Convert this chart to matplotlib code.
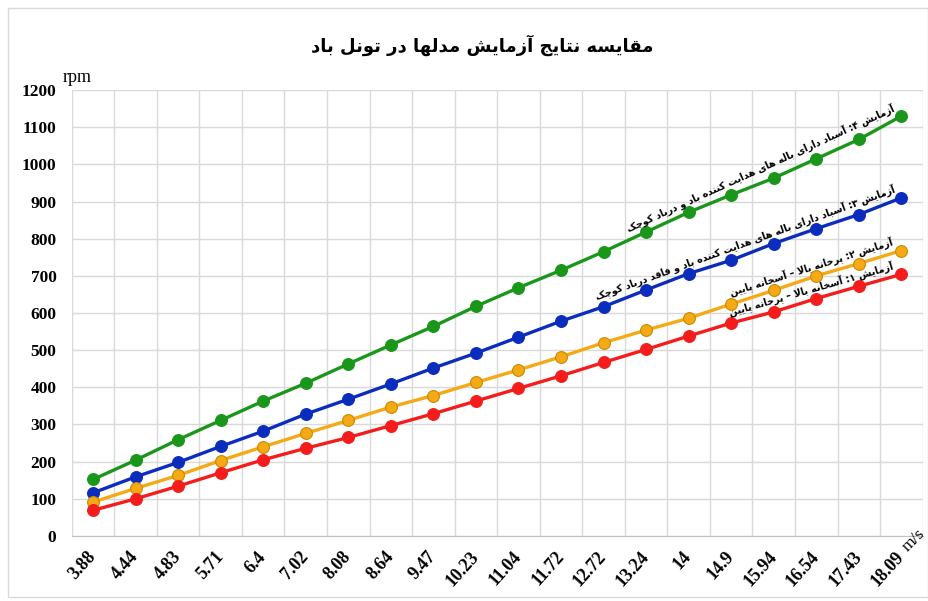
import numpy as np
import matplotlib
matplotlib.use("Agg")
import matplotlib.pyplot as plt
from matplotlib.patches import Rectangle

# سرعت باد (m/s) و دور (rpm) برای هر آزمایش
speeds = ["3.88", "4.44", "4.83", "5.71", "6.4", "7.02", "8.08", "8.64", "9.47", "10.23",
          "11.04", "11.72", "12.72", "13.24", "14", "14.9", "15.94", "16.54", "17.43", "18.09"]
test4 = [152, 204, 259, 311, 363, 411, 463, 514, 564, 618, 668, 715, 765, 818, 871, 918, 963, 1015, 1067, 1130]
test3 = [116, 159, 198, 241, 282, 328, 368, 409, 452, 492, 535, 578, 617, 662, 706, 742, 787, 827, 865, 910]
test2 = [91, 128, 163, 203, 240, 276, 311, 347, 378, 413, 447, 482, 520, 554, 586, 624, 661, 700, 733, 768]
test1 = [69, 100, 134, 170, 205, 236, 265, 297, 329, 363, 397, 431, 467, 502, 538, 573, 603, 639, 672, 704]

title = "مقایسه نتایج آزمایش مدلها در تونل باد"
label4 = "آزمایش ۴: آسباد دارای باله های هدایت کننده باد و درباد کوچک"
label3 = "آزمایش ۳: آسباد دارای باله های هدایت کننده باد و فاقد درباد کوچک"
label2 = "آزمایش ۲: پرخانه بالا – آسخانه پایین"
label1 = "آزمایش ۱: آسخانه بالا – پرخانه پایین"

# matplotlib حروف فارسی را به هم نمی چسباند، پس شکل ها را دستی انتخاب می کنیم
# (isolated, final, initial, medial)
FORMS = {
    'ا': ('\uFE8D', '\uFE8E', None, None),
    'آ': ('\uFE81', '\uFE82', None, None),
    'د': ('\uFEA9', '\uFEAA', None, None),
    'ر': ('\uFEAD', '\uFEAE', None, None),
    'ز': ('\uFEAF', '\uFEB0', None, None),
    'و': ('\uFEED', '\uFEEE', None, None),
    'ب': ('\uFE8F', '\uFE90', '\uFE91', '\uFE92'),
    'پ': ('\uFB56', '\uFB57', '\uFB58', '\uFB59'),
    'ت': ('\uFE95', '\uFE96', '\uFE97', '\uFE98'),
    'ج': ('\uFE9D', '\uFE9E', '\uFE9F', '\uFEA0'),
    'چ': ('\uFB7A', '\uFB7B', '\uFB7C', '\uFB7D'),
    'خ': ('\uFEA5', '\uFEA6', '\uFEA7', '\uFEA8'),
    'س': ('\uFEB1', '\uFEB2', '\uFEB3', '\uFEB4'),
    'ش': ('\uFEB5', '\uFEB6', '\uFEB7', '\uFEB8'),
    'ف': ('\uFED1', '\uFED2', '\uFED3', '\uFED4'),
    'ق': ('\uFED5', '\uFED6', '\uFED7', '\uFED8'),
    'ک': ('\uFB8E', '\uFB8F', '\uFB90', '\uFB91'),
    'ل': ('\uFEDD', '\uFEDE', '\uFEDF', '\uFEE0'),
    'م': ('\uFEE1', '\uFEE2', '\uFEE3', '\uFEE4'),
    'ن': ('\uFEE5', '\uFEE6', '\uFEE7', '\uFEE8'),
    'ه': ('\uFEE9', '\uFEEA', '\uFEEB', '\uFEEC'),
    'ی': ('\uFBFC', '\uFBFD', '\uFBFE', '\uFBFF'),
}
LAM_ALEF = {'ا': ('\uFEFB', '\uFEFC'), 'آ': ('\uFEF5', '\uFEF6')}


def joins_next(c):
    return c in FORMS and FORMS[c][2] is not None


def fa(text):
    out = []
    i = 0
    n = len(text)
    while i < n:
        c = text[i]
        if c not in FORMS:
            out.append(c)
            i += 1
            continue
        link_prev = i > 0 and joins_next(text[i - 1])
        if c == 'ل' and i + 1 < n and text[i + 1] in LAM_ALEF:
            out.append(LAM_ALEF[text[i + 1]][1 if link_prev else 0])
            i += 2
            continue
        link_next = joins_next(c) and i + 1 < n and text[i + 1] in FORMS
        iso, fin, ini, med = FORMS[c]
        if link_prev and link_next:
            out.append(med)
        elif link_prev:
            out.append(fin)
        elif link_next:
            out.append(ini)
        else:
            out.append(iso)
        i += 1
    return ''.join(reversed(out))


serif = "Liberation Serif"
fa_font = ["DejaVu Sans"]

fig = plt.figure(figsize=(9.29, 6.01), dpi=100)
ax = fig.add_axes([0.0772, 0.1082, 0.9160, 0.742])

x = np.arange(len(speeds))
series = [
    (test4, '#1A961A', '#1A961A'),
    (test3, '#0B2DBE', '#0B2DBE'),
    (test2, '#F5A915', '#C88A00'),
    (test1, '#F51C1C', '#F51C1C'),
]
for vals, col, edge in series:
    ax.plot(x, vals, color=col, lw=2.4, marker='o', ms=8.5,
            markerfacecolor=col, markeredgecolor=edge, markeredgewidth=0.8, zorder=3)

ax.set_xlim(-0.5, len(speeds) - 0.5)
ax.set_ylim(0, 1200)
ax.set_yticks(np.arange(0, 1201, 100))
ax.set_xticks(x)
ax.set_xticks(np.arange(-0.5, len(speeds)), minor=True)
ax.set_xticklabels(speeds, rotation=48, ha='right', va='center', rotation_mode='anchor',
                   fontfamily=serif, fontweight='bold', fontsize=13)
for lab in ax.get_yticklabels():
    lab.set_fontfamily(serif)
    lab.set_fontweight('bold')
    lab.set_fontsize(12.5)
ax.tick_params(which='both', length=0)
ax.tick_params(axis='y', pad=11)
ax.tick_params(axis='x', pad=13)
ax.grid(axis='y', color='#d9d9d9', lw=1)
ax.grid(axis='x', which='minor', color='#d9d9d9', lw=1)
for side in ['top', 'right', 'left']:
    ax.spines[side].set_visible(False)
ax.spines['bottom'].set_color('#bfbfbf')
ax.set_axisbelow(True)

fig.text(63 / 929, 1 - 82 / 601, "rpm", fontfamily=serif, fontsize=13, va='baseline', ha='left')
fig.text(908 / 929, 1 - 552 / 601, "m/s", fontfamily=serif, fontsize=12.5, rotation=45,
         ha='left', va='baseline', rotation_mode='anchor')

fig.canvas.draw()


def slope_angle(vals, i0, i1):
    p0 = ax.transData.transform((i0, vals[i0]))
    p1 = ax.transData.transform((i1, vals[i1]))
    return np.degrees(np.arctan2(p1[1] - p0[1], p1[0] - p0[0]))


labels = [
    (test4, label4, 13, 18.9, 3),
    (test3, label3, 13, 18.9, 3),
    (test2, label2, 15, 18.85, 3),
    (test1, label1, 15, 18.85, 3),
]
for vals, txt, i0, xe, dy in labels:
    ye = np.interp(xe, x, vals)
    ang = slope_angle(vals, i0, len(vals) - 1)
    ax.annotate(fa(txt), xy=(xe, ye), xytext=(0, dy), textcoords='offset points',
                rotation=ang, rotation_mode='anchor', ha='right', va='bottom',
                fontfamily=fa_font, fontweight='bold', fontsize=6.9, zorder=4)

fig.text(0.519, 0.925, fa(title), fontfamily=fa_font, fontweight='bold',
         fontsize=13, ha='center', va='center')

fig.patches.append(Rectangle((8 / 929, 4 / 601), 0.999 - 8 / 929, 1 - 12 / 601,
                             transform=fig.transFigure, fill=False,
                             edgecolor='#d9d9d9', lw=1))

fig.savefig("out.png", dpi=100)
